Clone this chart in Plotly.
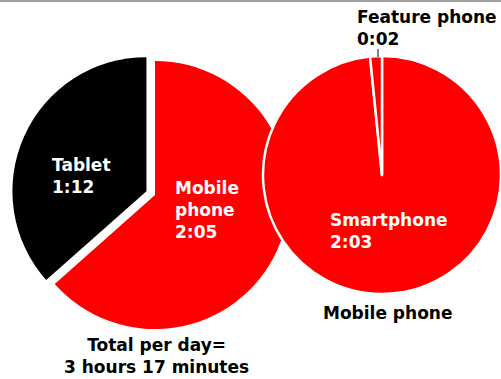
import plotly.graph_objects as go

W, H = 501, 379

devices = ["Tablet", "Mobile phone"]
device_minutes = [72, 125]
device_colors = ["#000000", "#ff0000"]
device_pull = [0.07, 0]

mobile_types = ["Feature phone", "Smartphone"]
mobile_minutes = [2, 123]
mobile_colors = ["#ff0000", "#ff0000"]

right_title = "Mobile phone"


def fmt(m):
    return f"{m // 60}:{m % 60:02d}"


def px(x):
    return x / W


def py(y):
    return 1 - y / H


fig = go.Figure()

# reversed order + clockwise so that the first category sits just left of 12 o'clock
fig.add_trace(go.Pie(
    labels=devices[::-1], values=device_minutes[::-1], sort=False, direction="clockwise",
    rotation=0, pull=device_pull[::-1], textinfo="none", hoverinfo="label+value",
    marker=dict(colors=device_colors[::-1], line=dict(width=0)),
    domain=dict(x=[px(11.6), px(298.4)], y=[py(338.4), py(51.6)]),
    showlegend=False,
))

fig.add_trace(go.Pie(
    labels=mobile_types[::-1], values=mobile_minutes[::-1], sort=False, direction="clockwise",
    rotation=0, textinfo="none", hoverinfo="label+value",
    marker=dict(colors=mobile_colors[::-1], line=dict(color="white", width=2.5)),
    domain=dict(x=[px(263), 1.0], y=[py(294), py(56)]),
    showlegend=False,
))

FONT = "DejaVu Sans"
fs = 17

total = sum(device_minutes)
annos = [
    (f"<b>{devices[0]}<br>{fmt(device_minutes[0])}</b>", 50, 176, "left", "white"),
    (f"<b>Mobile<br>phone<br>{fmt(device_minutes[1])}</b>", 173, 210, "left", "white"),
    (f"<b>{mobile_types[1]}<br>{fmt(mobile_minutes[1])}</b>", 328, 230.5, "left", "white"),
    (f"<b>{mobile_types[0]}<br>{fmt(mobile_minutes[0])}</b>", 355, 28, "left", "black"),
    (f"<b>{right_title}</b>", 387, 313, "center", "black"),
    (f"<b>Total per day=<br>{total // 60} hours {total % 60} minutes</b>", 156, 355.5, "center", "black"),
]
for text, x, y, anchor, color in annos:
    fig.add_annotation(
        text=text, x=px(x), y=py(y), xref="paper", yref="paper",
        xanchor=anchor, yanchor="middle", align=anchor, showarrow=False,
        font=dict(family=FONT, size=fs, color=color),
    )

# leader line for feature phone label
fig.add_shape(type="line", xref="paper", yref="paper",
              x0=px(378), x1=px(378), y0=py(49), y1=py(57),
              line=dict(color="black", width=1))
# top gray border
fig.add_shape(type="rect", xref="paper", yref="paper",
              x0=0, x1=1, y0=py(2), y1=1,
              line=dict(width=0), fillcolor="#a0a0a0")

fig.update_layout(
    width=W, height=H, margin=dict(l=0, r=0, t=0, b=0),
    paper_bgcolor="white", plot_bgcolor="white",
)

fig.write_html("out.html")
